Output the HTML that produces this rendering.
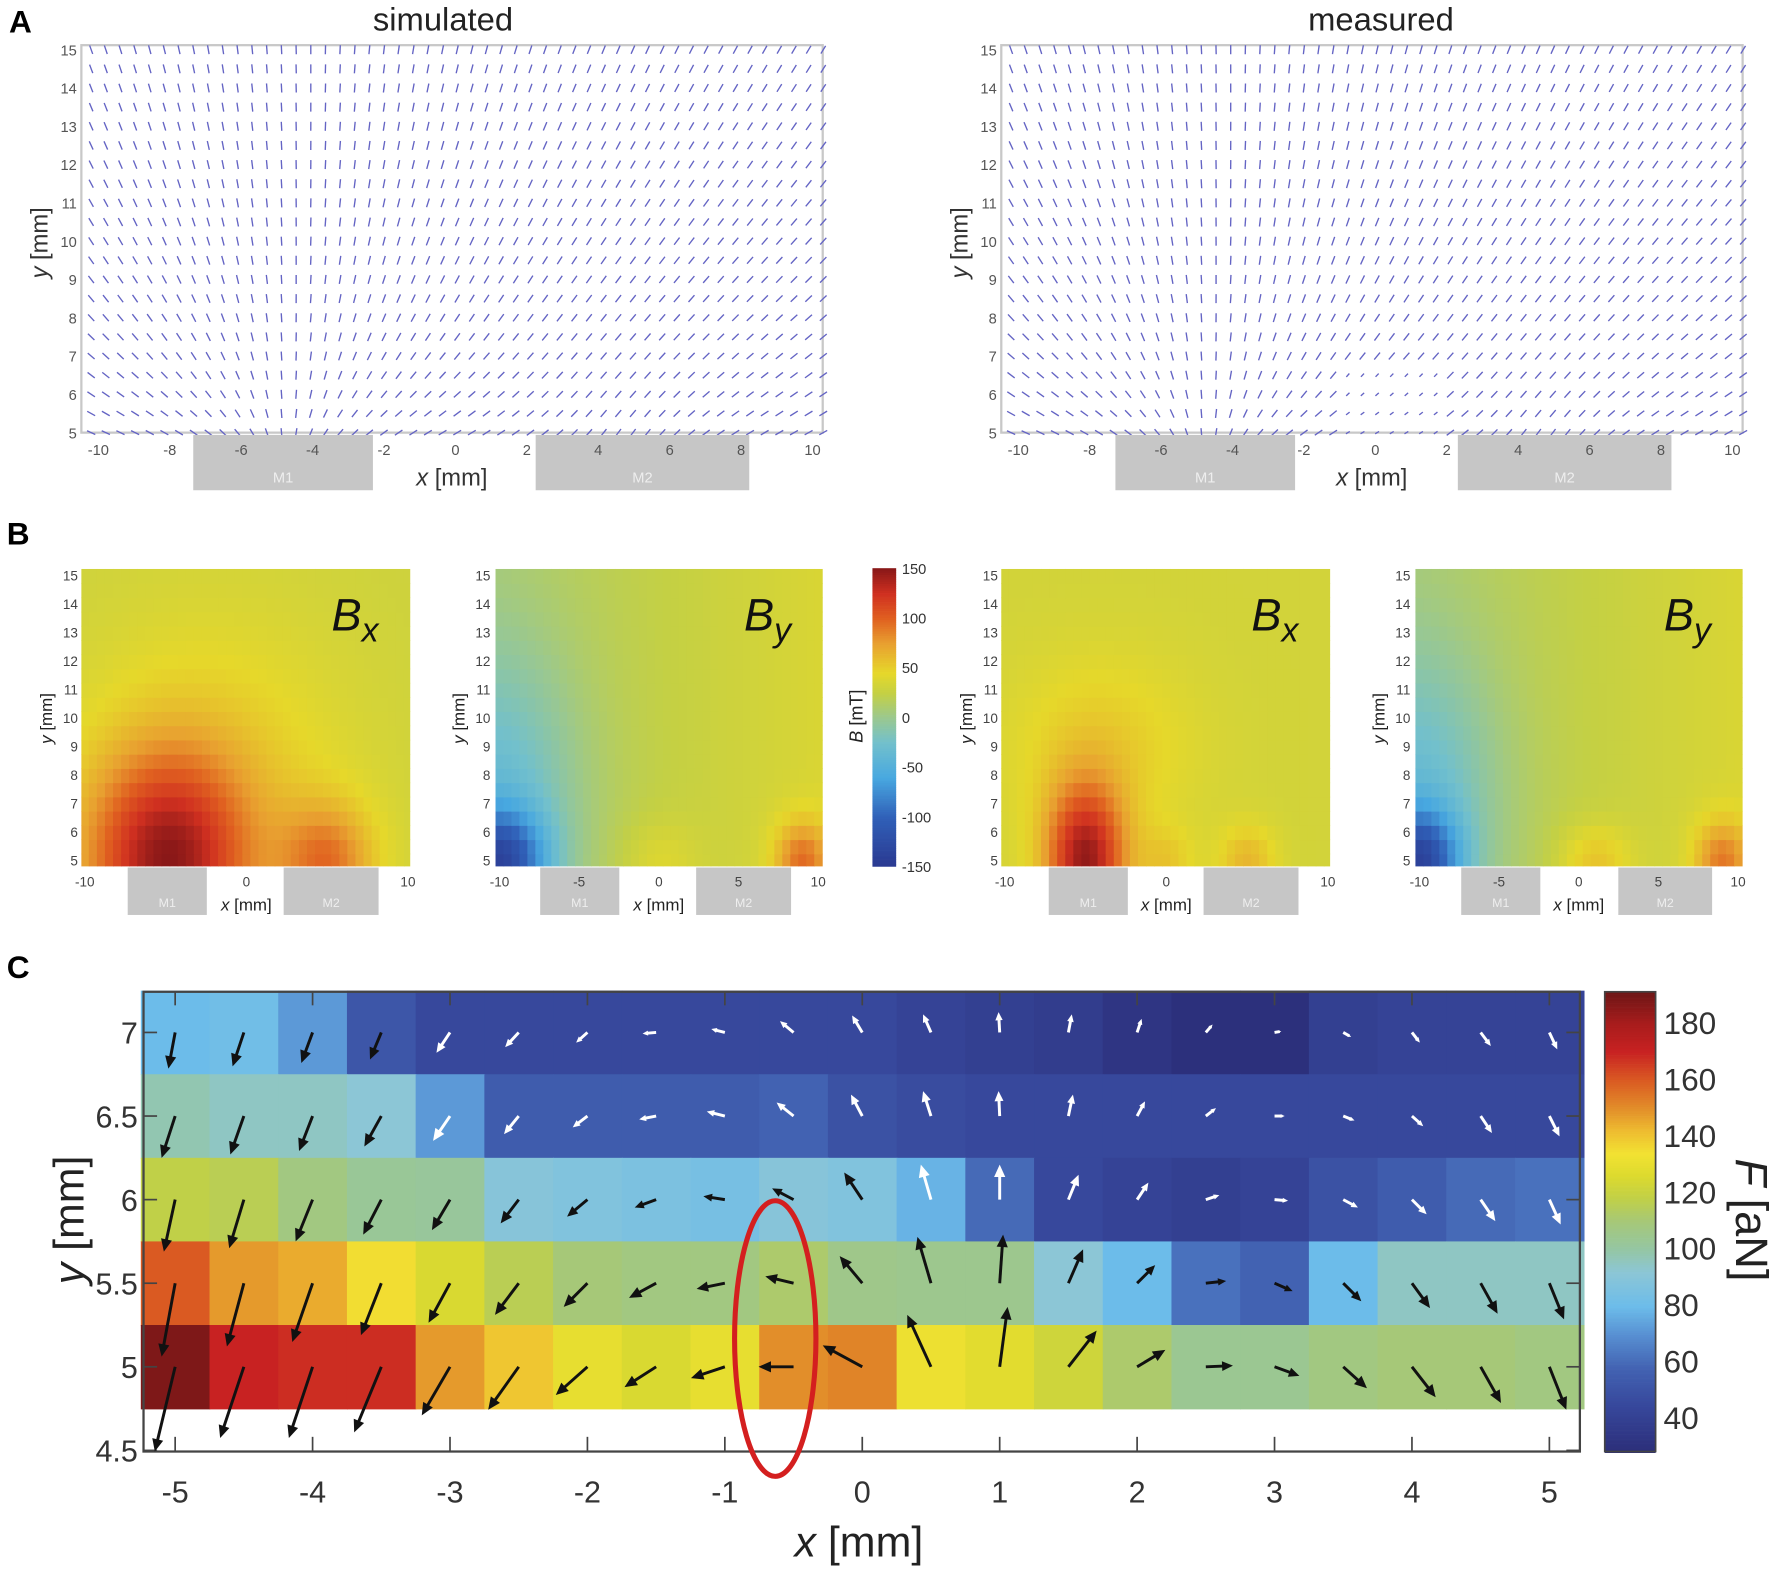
<!DOCTYPE html>
<html><head><meta charset="utf-8"><style>
html,body{margin:0;padding:0;background:#fff;}
svg{display:block;font-family:"Liberation Sans",sans-serif;}
</style></head><body>
<svg id="fig" xmlns="http://www.w3.org/2000/svg" width="1772" height="1569" viewBox="0 0 1568 1389" preserveAspectRatio="none">
<rect width="1568" height="1389" fill="#fff"/>
<text x="8" y="29" font-size="28" font-weight="bold">A</text>
<text x="6" y="482" font-size="28" font-weight="bold">B</text>
<text x="6" y="866" font-size="28" font-weight="bold">C</text>
<text x="392" y="27" font-size="29" text-anchor="middle" fill="#222">simulated</text>
<text x="1222" y="27" font-size="29" text-anchor="middle" fill="#222">measured</text>
<g id="gA"></g><g id="gB"></g><g id="gC"></g>
</svg>
<script>
const NS='http://www.w3.org/2000/svg';
function mk(parent,tag,attrs,text){const e=document.createElementNS(NS,tag);for(const k in attrs)e.setAttribute(k,attrs[k]);if(text!==undefined)e.textContent=text;parent.appendChild(e);return e;}
function hex(c){return [parseInt(c.slice(1,3),16),parseInt(c.slice(3,5),16),parseInt(c.slice(5,7),16)];}
function cmap(stops,v){if(v<=stops[0][0])return stops[0][1];if(v>=stops[stops.length-1][0])return stops[stops.length-1][1];
 for(let i=0;i<stops.length-1;i++){const a=stops[i],b=stops[i+1];if(v>=a[0]&&v<=b[0]){const t=(v-a[0])/(b[0]-a[0]);const ca=hex(a[1]),cb=hex(b[1]);return 'rgb('+ca.map((x,j)=>Math.round(x+(cb[j]-x)*t)).join(',')+')';}}}

// ---------- Panel A ----------
const aTicksX=[-10,-8,-6,-4,-2,0,2,4,6,8,10];
const aTicksY=[5,6,7,8,9,10,11,12,13,14,15];
const gA=document.getElementById('gA');
const aPanels=[{x0:403,left:72,right:728,m1:[171,330],m2:[474,663],meas:false,name:'simulated'},{x0:1217,left:886,right:1542,m1:[987,1146],m2:[1290,1479],meas:true,name:'measured'}];
aPanels.forEach(p=>{
 const sx=x=>p.x0+x*31.6, sy=y=>383-(y-5)*33.9;
 const g=mk(gA,'g',{});
 
 
 const fr=mk(g,'rect',{x:p.left,y:40,width:p.right-p.left,height:343,fill:'#fff',stroke:'#c8c8c8','stroke-width':2});
 
 
 for(let yi=0;yi<=20;yi++){const y=5+yi*0.5;
  for(let xi=0;xi<51;xi++){const x=-10.2+xi*0.41;
   let dx=x+4.75,dy=y-3.5;const r=Math.hypot(dx,dy);let u=dx/r/r*3,v=dy/r/r*3+0.1;
   const dx2=x-5.5,dy2=y-3,r2=Math.hypot(dx2,dy2);u+=0.4*dx2/r2/r2;v+=0.4*dy2/r2/r2;
   const m=Math.hypot(u,v);u/=m;v/=m;
   let L=8; if(p.meas&&x>-1&&x<2&&y<7)L=4;
   const px=sx(x),py=sy(y);
   const ln=mk(g,'line',{x1:px-u*L*0.5,y1:py+v*L*0.5,x2:px+u*L*0.5,y2:py-v*L*0.5,stroke:'#6464c4','stroke-width':1.2});
   
   
  }}
 aTicksY.forEach(t=>{const tx=mk(g,'text',{x:p.left-4,y:sy(t)+5,'font-size':13,'text-anchor':'end',fill:'#555'},t);
  });
 [[p.m1,'M1'],[p.m2,'M2']].forEach(([m,l])=>{const r=mk(g,'rect',{x:m[0],y:385,width:m[1]-m[0],height:49,fill:'#c6c6c6'});
  
  const t=mk(g,'text',{x:(m[0]+m[1])/2,y:427,'font-size':13,'text-anchor':'middle',fill:'#eee'},l);
  });
 aTicksX.forEach(t=>{const tx=mk(g,'text',{x:sx(t),y:403,'font-size':13,'text-anchor':'middle',fill:'#555'},t);
  });
 const xl=mk(g,'text',{x:sx(-0.1),y:430,'font-size':21,'text-anchor':'middle',fill:'#333'});
 xl.innerHTML='<tspan font-style="italic">x</tspan> [mm]';
 
 const yl=mk(g,'text',{x:0,y:0,'font-size':21,'text-anchor':'middle',fill:'#333',transform:'translate('+(p.left-30)+',215) rotate(-90)'});
 yl.innerHTML='<tspan font-style="italic">y</tspan> [mm]';
 
});

// ---------- Panel B ----------
const bStops=[[-150,'#2a3890'],[-100,'#3060b8'],[-60,'#48a8e0'],[-25,'#72c0cc'],[0,'#9ac890'],[25,'#c4d044'],[45,'#e6d82a'],[75,'#e8a030'],[100,'#e06020'],[125,'#d03020'],[150,'#8a1818']];
const bTicksY=[5,6,7,8,9,10,11,12,13,14,15];
const bTicksX=[[-10,0,10],[-10,-5,0,5,10]];
const gB=document.getElementById('gB');
function g2(x,y,cx,cy,sx2,sy2){return Math.exp(-((x-cx)*(x-cx)/sx2+(y-cy)*(y-cy)/sy2));}
const bPanels=[
 {left:72,x0:218,k:14.3,m1:[113,183],m2:[251,335],lab:'x',ticks:0,f:(x,y)=>100*g2(x,y,-5,5,24,14)+55*g2(x,y,5,5,8,4)+25*g2(x,y,-2,7,70,40)+30},
 {left:437,x0:583,k:14.1,m1:[478,548],m2:[616,700],lab:'y',ticks:1,f:(x,y)=>-110*g2(x,y,-10,5,8,3)-45*g2(x,y,-10,7,25,30)+12+25*(x+10)/20+60*g2(x,y,9,5,3,2)+15*g2(x,y,0,5,6,2)},
 {left:886,x0:1032,k:14.3,m1:[928,998],m2:[1065,1149],lab:'x',ticks:0,f:(x,y)=>110*g2(x,y,-5,5,6,7)+20*g2(x,y,-4,9,30,10)+30*g2(x,y,5,5,3,1.5)+20*g2(x,y,0,5,3,1.5)+33},
 {left:1251,x0:1397,k:14.1,m1:[1293,1363],m2:[1432,1515],lab:'y',ticks:1,f:(x,y)=>-110*g2(x,y,-10,5,6,3)-45*g2(x,y,-10,7,25,30)+12+25*(x+10)/20+55*g2(x,y,9,5,3,2)+30*g2(x,y,1,5,5,1.5)}
];
bPanels.forEach((p,pi)=>{
 const W=291,sx=x=>p.x0+x*p.k,sy=y=>762-(y-5)*25.2;
 const g=mk(gB,'g',{});
 
 
 for(let yi=0;yi<21;yi++){const y=5+yi*0.5;
  for(let xi=0;xi<41;xi++){const x=-10+xi*0.5;
   const x1=Math.max(p.left,sx(x-0.25)),x2=Math.min(p.left+W,sx(x+0.25)+0.6);
   const y1=Math.max(503,sy(y+0.25)),y2=Math.min(767,sy(y-0.25)+0.6);
   const c=mk(g,'rect',{x:x1,y:y1,width:x2-x1,height:y2-y1,fill:cmap(bStops,p.f(x,y))});
   }}
 const t=mk(g,'text',{x:p.left+W-28,y:558,'font-size':40,'font-style':'italic','text-anchor':'end',fill:'#111'},'B');
 mk(t,'tspan',{'font-size':30,dy:10},p.lab);
 
 bTicksY.forEach(v=>{const tx=mk(g,'text',{x:p.left-3,y:sy(v)+4,'font-size':12,'text-anchor':'end',fill:'#444'},v);
  });
 [[p.m1,'M1'],[p.m2,'M2']].forEach(([m,l])=>{const r=mk(g,'rect',{x:m[0],y:768,width:m[1]-m[0],height:42,fill:'#c6c6c6'});
  
  const q=mk(g,'text',{x:(m[0]+m[1])/2,y:803,'font-size':11,'text-anchor':'middle',fill:'#eee'},l);
  });
 bTicksX[p.ticks].forEach(v=>{const tx=mk(g,'text',{x:sx(v),y:785,'font-size':12,'text-anchor':'middle',fill:'#444'},v);
  });
 const xl=mk(g,'text',{x:p.x0,y:806,'font-size':15,'text-anchor':'middle',fill:'#222'});
 xl.innerHTML='<tspan font-style="italic">x</tspan> [mm]';
 
 const yl=mk(g,'text',{x:0,y:0,'font-size':15,'text-anchor':'middle',fill:'#222',transform:'translate('+(p.left-26)+',636) rotate(-90)'});
 yl.innerHTML='<tspan font-style="italic">y</tspan> [mm]';
 
});
// B colorbar
const bCbTicks=[150,100,50,0,-50,-100,-150];
(function(){const g=mk(gB,'g',{});
 
 for(let i=0;i<132;i++){const v=150-i*300/132;mk(g,'rect',{x:772,y:503+i*2,width:21,height:2.3,fill:cmap(bStops,v)});}
 bCbTicks.forEach(v=>{const tx=mk(g,'text',{x:798,y:503+(150-v)/300*264+5,'font-size':13,fill:'#333'},v);
  });
 const l=mk(g,'text',{x:0,y:0,'font-size':16,'text-anchor':'middle',fill:'#222',transform:'translate(763,634) rotate(-90)'});
 l.innerHTML='<tspan font-style="italic">B</tspan> [mT]';
 
})();

// ---------- Panel C ----------
const cX=[-5,-4.5,-4,-3.5,-3,-2.5,-2,-1.5,-1,-0.5,0,0.5,1,1.5,2,2.5,3,3.5,4,4.5,5];
const cY=[7,6.5,6,5.5,5];
const F7=[80,82,72,52,45,45,45,45,45,45,45,42,40,38,33,30,30,40,42,42,42];
const F65=[98,95,95,92,72,55,55,55,55,58,50,47,45,45,45,45,45,45,45,45,45];
const F6=[118,116,108,103,102,90,88,86,84,90,88,78,60,45,42,40,42,50,55,60,62];
const F55=[160,148,145,135,125,116,110,108,108,112,106,105,105,92,80,62,58,80,95,95,95];
const F5=[188,170,168,168,148,140,130,125,130,150,152,132,128,122,112,104,104,108,110,110,108];
const U7=[-6,-10,-10,-10,-12,-12,-10,-12,-12,-12,-9,-7,-1,3,4,6,6,7,7,9,7];
const V7=[-32,-30,-27,-24,-18,-13,-9,-1,3,10,15,16,18,16,12,7,1,-4,-9,-12,-15];
const U65=[-12,-12,-12,-15,-15,-13,-13,-15,-16,-15,-10,-7,-1,4,7,9,9,10,10,10,9];
const V65=[-37,-34,-31,-27,-22,-16,-10,-3,4,12,19,22,22,19,13,7,0,-4,-9,-15,-18];
const U6=[-10,-13,-15,-16,-16,-16,-18,-19,-19,-19,-16,-9,0,9,10,12,12,13,13,13,10];
const V6=[-46,-43,-37,-31,-27,-21,-15,-7,3,10,24,31,31,22,15,4,-1,-7,-13,-19,-22];
const U55=[-12,-15,-18,-18,-19,-21,-21,-24,-25,-25,-20,-12,3,13,16,18,16,16,16,15,13];
const V55=[-65,-56,-52,-46,-35,-28,-21,-13,-5,6,24,41,43,30,16,2,-7,-16,-22,-27,-32];
const U5=[-18,-21,-21,-24,-25,-27,-28,-28,-30,-31,-35,-21,7,25,25,24,22,21,21,18,15];
const V5=[-75,-63,-63,-58,-43,-38,-25,-18,-10,0,19,46,53,32,15,1,-8,-19,-27,-32,-38];
const cF=[F7,F65,F6,F55,F5], cU=[U7,U65,U6,U55,U5], cV=[V7,V65,V6,V55,V5];
const cXTicks=[-5,-4,-3,-2,-1,0,1,2,3,4,5];
const cYTicks=[7,6.5,6,5.5,5,4.5];
const cCbTicks=[40,60,80,100,120,140,160,180];
const cStops=[[28,'#2b2d78'],[45,'#37489c'],[58,'#4262b2'],[70,'#5890d2'],[80,'#6cbcea'],[92,'#8cc6d6'],[100,'#94c6a4'],[110,'#a6c878'],[118,'#c0d048'],[126,'#dcda2e'],[134,'#f2e232'],[142,'#eebc30'],[150,'#e28e2a'],[160,'#da5a22'],[170,'#c82222'],[180,'#a81c1c'],[191,'#6e1616']];
const gC=document.getElementById('gC');
const cx=x=>763+x*121.6, cy=y=>1210-(y-5)*148;
(function(){
 const g=mk(gC,'g',{});
 
 cY.forEach((y,ri)=>cX.forEach((x,ci)=>{
  const c=mk(g,'rect',{x:cx(x-0.25),y:cy(y+0.25),width:121.6*0.5+0.7,height:74+0.7,fill:cmap(cStops,cF[ri][ci])});
  }));
 const ax=mk(gC,'rect',{x:127,y:878,width:1271,height:407,fill:'none',stroke:'#444','stroke-width':2});
 
 cXTicks.forEach(t=>{mk(gC,'line',{x1:cx(t),x2:cx(t),y1:1285,y2:1272,stroke:'#444','stroke-width':1.5});mk(gC,'line',{x1:cx(t),x2:cx(t),y1:878,y2:890,stroke:'#444','stroke-width':1.5});
  const tx=mk(gC,'text',{x:cx(t),y:1330,'font-size':27,'text-anchor':'middle',fill:'#333'},t);
  });
 cYTicks.forEach(t=>{mk(gC,'line',{x1:127,x2:139,y1:cy(t),y2:cy(t),stroke:'#444','stroke-width':1.5});mk(gC,'line',{x1:1386,x2:1398,y1:cy(t),y2:cy(t),stroke:'#444','stroke-width':1.5});
  const tx=mk(gC,'text',{x:122,y:cy(t)+10,'font-size':27,'text-anchor':'end',fill:'#333'},t);
  });
 const ga=mk(gC,'g',{});
 
 cY.forEach((y,ri)=>cX.forEach((x,ci)=>{
  const white=(ri<2&&x>=-3)||(ri===2&&x>=0.5);
  const col=white?'#fff':'#111';
  const x1=cx(x),y1=cy(y),x2=x1+cU[ri][ci],y2=y1-cV[ri][ci];
  const L=Math.hypot(x2-x1,y2-y1),ux=(x2-x1)/L,uy=(y2-y1)/L,h=Math.min(11,L*0.4),w=h*0.45;
  const a=mk(ga,'g',{});
  
  mk(a,'line',{x1:x1,y1:y1,x2:x2-ux*h*0.6,y2:y2-uy*h*0.6,stroke:col,'stroke-width':2.6});
  mk(a,'polygon',{points:[x2,y2,x2-ux*h-uy*w,y2-uy*h+ux*w,x2-ux*h+uy*w,y2-uy*h-ux*w].join(','),fill:col});
 }));
 const el=mk(gC,'ellipse',{cx:686,cy:1185,rx:36,ry:122,fill:'none',stroke:'#d41f1f','stroke-width':4.5});
 
 const xl=mk(gC,'text',{x:760,y:1378,'font-size':38,'text-anchor':'middle',fill:'#222'});
 xl.innerHTML='<tspan font-style="italic">x</tspan> [mm]';
 
 const yl=mk(gC,'text',{x:0,y:0,'font-size':38,'text-anchor':'middle',fill:'#222',transform:'translate(74,1080) rotate(-90)'});
 yl.innerHTML='<tspan font-style="italic">y</tspan> [mm]';
 
 const gcb=mk(gC,'g',{});
 
 const top=878,bot=1285,vTop=191,vBot=28,cyb=v=>bot-(v-vBot)/(vTop-vBot)*(bot-top);
 for(let i=0;i<204;i++){const v=vTop-i*(vTop-vBot)/204;mk(gcb,'rect',{x:1420,y:top+i*2,width:45,height:2.3,fill:cmap(cStops,v)});}
 mk(gcb,'rect',{x:1420,y:top,width:45,height:bot-top,fill:'none',stroke:'#444','stroke-width':1.5});
 cCbTicks.forEach(v=>{const tx=mk(gcb,'text',{x:1472,y:cyb(v)+10,'font-size':28,fill:'#333'},v);
  });
 const cl=mk(gcb,'text',{x:0,y:0,'font-size':40,'text-anchor':'middle',fill:'#222',transform:'translate(1536,1080) rotate(90)'});
 cl.innerHTML='<tspan font-style="italic">F</tspan> [aN]';
 
})();
</script>
</body></html>
